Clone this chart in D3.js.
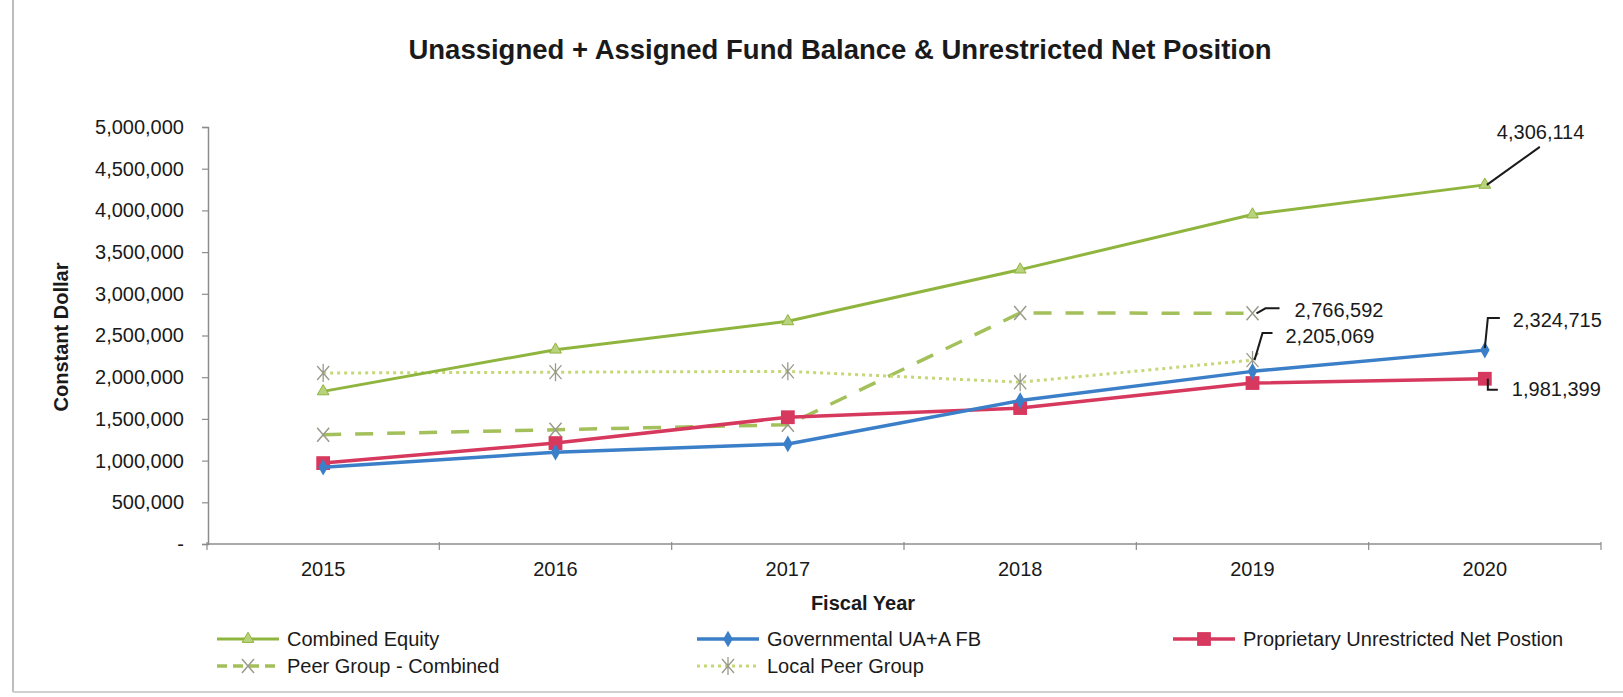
<!DOCTYPE html>
<html>
<head>
<meta charset="utf-8">
<script src="https://cdn.jsdelivr.net/npm/d3@7"></script>
<style>
  html, body { margin: 0; padding: 0; background: #fff; }
  svg { display: block; font-family: "Liberation Sans", Arial, sans-serif; }
</style>
</head>
<body>
<svg id="chart" width="1623" height="697"></svg>
<script>
// Fiscal years on the category axis
const years = ["2015", "2016", "2017", "2018", "2019", "2020"];

// Series values in constant dollars (null = no value for that year)
const combinedEquity = [1830000, 2330000, 2670000, 3290000, 3950000, 4306114];
const governmentalUAFB = [920000, 1100000, 1200000, 1720000, 2070000, 2324715];
const proprietaryUNP = [970000, 1210000, 1520000, 1630000, 1930000, 1981399];
const peerGroupCombined = [1310000, 1370000, 1430000, 2770000, 2766592, null];
const localPeerGroup = [2050000, 2060000, 2070000, 1940000, 2205069, null];

// Value axis ticks
const yTicks = [0, 500000, 1000000, 1500000, 2000000, 2500000, 3000000, 3500000, 4000000, 4500000, 5000000];

const seriesNames = ["Combined Equity", "Governmental UA+A FB", "Proprietary Unrestricted Net Postion",
                     "Peer Group - Combined", "Local Peer Group"];

const svg = d3.select("#chart");
const FONT = 20;

const x = d3.scaleBand().domain(years).range([207, 1601]).paddingInner(0).paddingOuter(0);
const cx = d => x(d) + x.bandwidth() / 2;
const y = d3.scaleLinear().domain([0, 5000000]).range([544, 127]);

// chart frame edges
svg.append("line").attr("x1", 13).attr("x2", 13).attr("y1", 0).attr("y2", 692)
  .attr("stroke", "#bdbdbd").attr("stroke-width", 2);
svg.append("line").attr("x1", 13).attr("x2", 1623).attr("y1", 692).attr("y2", 692)
  .attr("stroke", "#d0d0d0").attr("stroke-width", 2);

// title
svg.append("text").attr("x", 840).attr("y", 49).attr("dy", "0.35em")
  .attr("text-anchor", "middle").attr("font-weight", "bold").attr("font-size", 27.5)
  .attr("fill", "#1a1a1a")
  .text("Unassigned + Assigned Fund Balance & Unrestricted Net Position");

// value axis
const yAxis = d3.axisLeft(y).tickValues(yTicks).tickSize(6).tickPadding(18)
  .tickFormat(v => v === 0 ? "-" : d3.format(",")(v));
const gy = svg.append("g").attr("transform", "translate(208,0)").call(yAxis);
gy.select(".domain").attr("stroke", "#8c8c8c").attr("stroke-width", 1.5);
gy.selectAll(".tick line").attr("stroke", "#8c8c8c").attr("stroke-width", 1.2);
gy.selectAll(".tick text").attr("font-size", FONT).attr("fill", "#1a1a1a")
  .attr("font-family", "'Liberation Sans', Arial, sans-serif");

svg.append("text").attr("transform", "translate(61,337) rotate(-90)")
  .attr("text-anchor", "middle").attr("dy", "0.35em")
  .attr("font-weight", "bold").attr("font-size", FONT).attr("fill", "#1a1a1a")
  .text("Constant Dollar");

// category axis: ticks sit between categories
const gx = svg.append("g").attr("transform", "translate(0,544)");
gx.append("line").attr("x1", 207).attr("x2", 1601).attr("y1", 0).attr("y2", 0)
  .attr("stroke", "#8c8c8c").attr("stroke-width", 1.5);
const boundaries = years.map(d => x(d)).concat([x(years[years.length - 1]) + x.bandwidth()]);
gx.selectAll("line.tick").data(boundaries).enter().append("line").attr("class", "tick")
  .attr("x1", d => d).attr("x2", d => d).attr("y1", -2).attr("y2", 6)
  .attr("stroke", "#8c8c8c").attr("stroke-width", 1.2);
gx.selectAll("text.lab").data(years).enter().append("text").attr("class", "lab")
  .attr("x", d => cx(d)).attr("y", 25).attr("dy", "0.35em").attr("text-anchor", "middle")
  .attr("font-size", FONT).attr("fill", "#1a1a1a").text(d => d);

svg.append("text").attr("x", 863).attr("y", 603).attr("dy", "0.35em").attr("text-anchor", "middle")
  .attr("font-weight", "bold").attr("font-size", FONT).attr("fill", "#1a1a1a").text("Fiscal Year");

// series styling
const series = [
  { name: seriesNames[3], values: peerGroupCombined, color: "#a3c05a", width: 3.5, dash: "18,14", legendDash: "10,6", marker: "x" },
  { name: seriesNames[4], values: localPeerGroup, color: "#c5d877", width: 3, dash: "3,4", legendDash: "3,4", marker: "star" },
  { name: seriesNames[0], values: combinedEquity, color: "#8fb53e", width: 3, dash: null, marker: "tri" },
  { name: seriesNames[2], values: proprietaryUNP, color: "#d7385e", width: 3.5, dash: null, marker: "sq" },
  { name: seriesNames[1], values: governmentalUAFB, color: "#3b7fc8", width: 3.5, dash: null, marker: "dia" }
];

const line = d3.line().defined(d => d.v != null).x(d => cx(d.year)).y(d => y(d.v));

function drawMarker(g, type, color) {
  if (type === "tri") {
    g.append("path").attr("d", d3.symbol(d3.symbolTriangle, 60)())
      .attr("fill", "#b9d27e").attr("stroke", color).attr("stroke-width", 1);
  } else if (type === "dia") {
    g.append("path").attr("d", d3.symbol(d3.symbolDiamond, 80)()).attr("fill", color);
  } else if (type === "sq") {
    g.append("path").attr("d", d3.symbol(d3.symbolSquare, 190)()).attr("fill", color);
  } else if (type === "x") {
    g.append("path").attr("d", "M-6,-7L6,7M-6,7L6,-7")
      .attr("stroke", "#9a9a8a").attr("stroke-width", 1.5).attr("fill", "none");
  } else if (type === "star") {
    g.append("path").attr("d", "M-6,-7L6,7M-6,7L6,-7M0,-9L0,9")
      .attr("stroke", "#9a9a8a").attr("stroke-width", 1.3).attr("fill", "none");
  }
}

series.forEach(s => {
  const pts = years.map((yr, i) => ({ year: yr, v: s.values[i] }));
  const path = svg.append("path").datum(pts).attr("d", line)
    .attr("fill", "none").attr("stroke", s.color).attr("stroke-width", s.width)
    .attr("stroke-linejoin", "round");
  if (s.dash) path.attr("stroke-dasharray", s.dash);
  pts.filter(p => p.v != null).forEach(p => {
    const g = svg.append("g").attr("transform", `translate(${cx(p.year)},${y(p.v)})`);
    drawMarker(g, s.marker, s.color);
  });
});

// value callouts with leader lines
const fmt = d3.format(",");
const callouts = [
  { values: combinedEquity, year: "2020", tx: 12, ty: -53, leader: [[55, -38], [2, 0]] },
  { values: peerGroupCombined, year: "2019", tx: 42, ty: -3, leader: [[4, 0], [13, -5], [27, -5]] },
  { values: localPeerGroup, year: "2019", tx: 33, ty: -24, leader: [[2, 0], [10, -27], [20, -27]] },
  { values: governmentalUAFB, year: "2020", tx: 28, ty: -30, leader: [[0, -2], [3, -32], [15, -32]] },
  { values: proprietaryUNP, year: "2020", tx: 27, ty: 10, leader: [[3, 0], [3, 11], [13, 11]] }
];
callouts.forEach(c => {
  const i = years.indexOf(c.year);
  const v = c.values[i];
  const px = cx(c.year), py = y(v);
  svg.append("path")
    .attr("d", d3.line()(c.leader.map(([dx, dy]) => [px + dx, py + dy])))
    .attr("fill", "none").attr("stroke", "#1a1a1a").attr("stroke-width", 2);
  svg.append("text").attr("x", px + c.tx).attr("y", py + c.ty).attr("dy", "0.35em")
    .attr("font-size", FONT).attr("fill", "#1a1a1a").text(fmt(v));
});

// legend
const legendItems = [
  { s: series[2], x: 217, y: 639 },
  { s: series[4], x: 697, y: 639 },
  { s: series[3], x: 1173, y: 639 },
  { s: series[0], x: 217, y: 666 },
  { s: series[1], x: 697, y: 666 }
];
legendItems.forEach(it => {
  const g = svg.append("g").attr("transform", `translate(${it.x},${it.y})`);
  const l = g.append("line").attr("x1", 0).attr("x2", 62).attr("y1", 0).attr("y2", 0)
    .attr("stroke", it.s.color).attr("stroke-width", it.s.width);
  if (it.s.legendDash) l.attr("stroke-dasharray", it.s.legendDash);
  const m = g.append("g").attr("transform", "translate(31,0)");
  drawMarker(m, it.s.marker, it.s.color);
  g.append("text").attr("x", 70).attr("y", 0).attr("dy", "0.35em")
    .attr("font-size", FONT).attr("fill", "#1a1a1a").text(it.s.name);
});
</script>
</body>
</html>
